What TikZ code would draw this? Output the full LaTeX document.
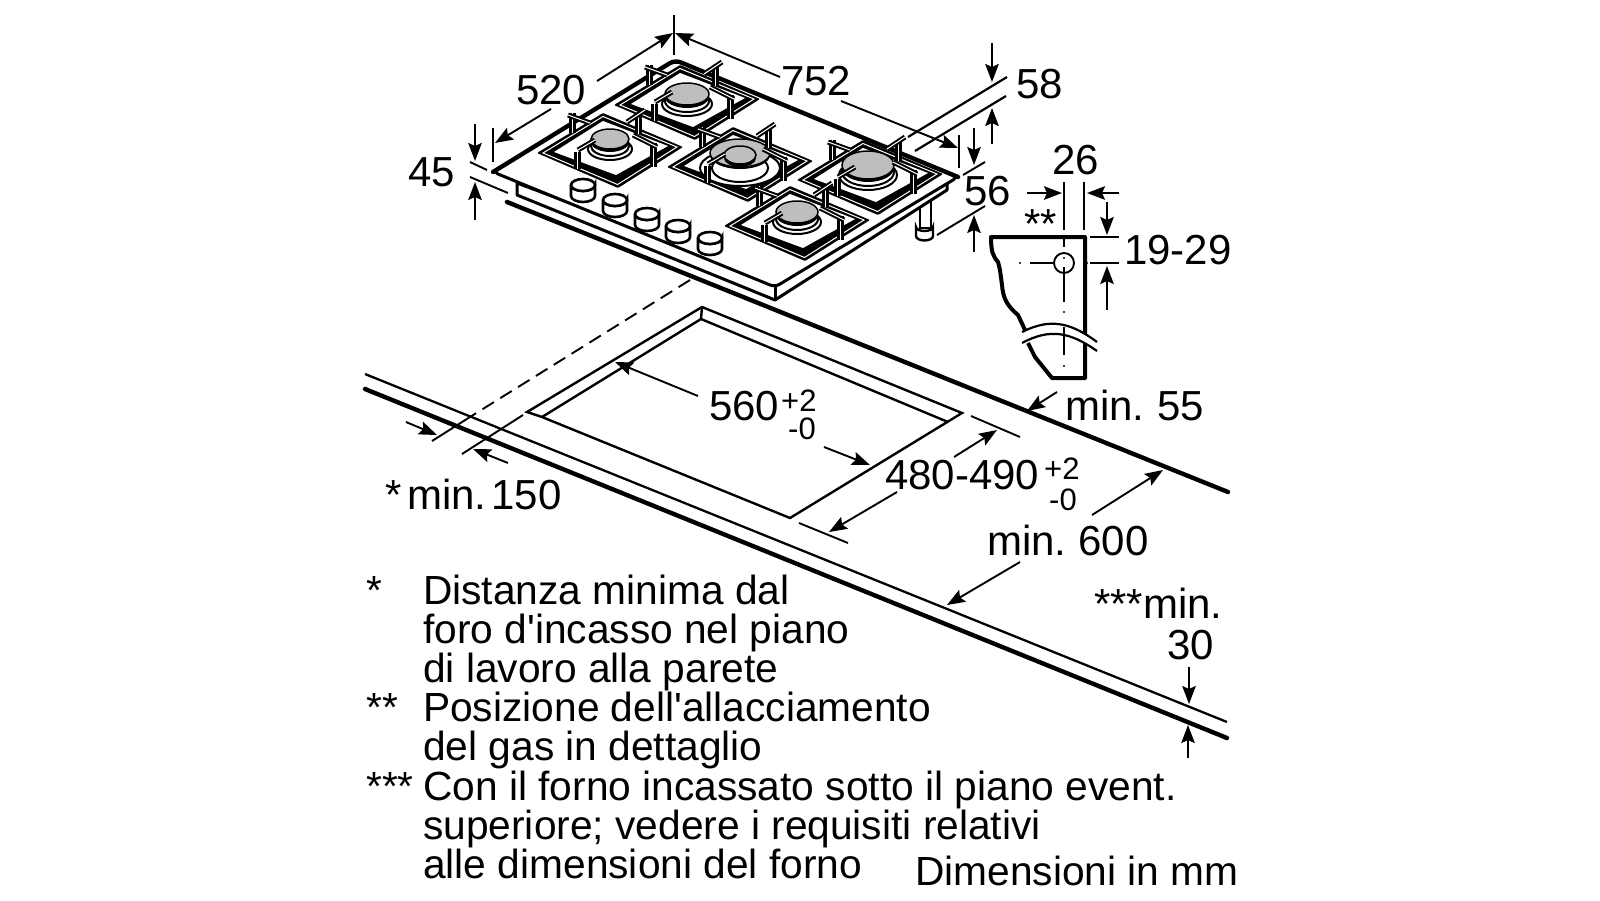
\documentclass[tikz,border=0pt]{standalone}
\usepackage{fontspec}
\newfontfamily\plainf{Liberation Sans}
\usetikzlibrary{arrows.meta}
\definecolor{burnergray}{HTML}{BEBEBE}
\tikzset{
  lab/.style={anchor=base west,inner sep=0pt,font=\plainf\fontsize{42}{42}\selectfont},
  note/.style={anchor=base west,inner sep=0pt,font=\plainf\fontsize{40.7}{41}\selectfont},
  sublab/.style={anchor=base west,inner sep=0pt,font=\plainf\fontsize{31}{31}\selectfont},
  dimarr/.style={-{Stealth[length=18pt,width=13.5pt,inset=3pt]},line width=1.9pt},
  dimline/.style={line width=1.9pt},
  heavy/.style={line width=4.4pt,line cap=round},
  medium/.style={line width=3pt,line join=round},
  bar/.style={double=white,double distance=1pt,line width=2pt},
  post/.style={double=white,double distance=1pt,line width=3pt},
  ring/.style={line width=2pt,fill=white},
  centre/.style={line width=1.9pt}
}
\newcommand{\gratefig}[2]{%
  \begin{scope}[shift={(#1,#2)}]
    \fill[black,rounded corners=1pt] (-73,2)--(-7,-38)--(73,-4)--(8,37)--cycle;
    \draw[white,line width=1pt] (-67,2)--(-7,-34.5)--(67,-4)--(7.5,33.5)--cycle;
    \fill[white] (-56,1)--(-7,-30)--(58,-5)--(6,24)--cycle;
  \end{scope}}
\newcommand{\prongs}[2]{%
  \begin{scope}[shift={(#1,#2)}]
    \draw[post] (-38,-38)--(-38,-18);
    \draw[bar] (-42,-36)--(-20,-28);
    \draw[post] (28,-36)--(28,-17);
    \draw[bar] (17,-29)--(35,-41);
    \draw[post] (-33,18)--(-33,1);
    \draw[bar] (-32,-1)--(-15,-11);
    \draw[post] (43,-8)--(43,16);
    \draw[bar] (23,-16)--(47,-4);
  \end{scope}}
\newcommand{\burnerfig}[4]{%
  \draw[ring] (#1,#2+10) ellipse [x radius=#3+3,y radius=#4+1];
  \draw[ring] (#1,#2+7) ellipse [x radius=#3,y radius=#4];
  \fill[black] (#1,#2+3) ellipse [x radius=#3,y radius=#4];
  \draw[line width=1.5pt,fill=burnergray] (#1,#2) ellipse [x radius=#3,y radius=#4];}
\newcommand{\knob}[2]{%
  \draw[line width=2.6pt,fill=white] (#1-12,#2)--(#1-12,#2+11)
     arc[start angle=180,end angle=0,x radius=12,y radius=6]--(#1+12,#2)
     arc[start angle=0,end angle=180,x radius=12,y radius=6];
  \draw[line width=2.6pt,fill=white] (#1,#2) ellipse [x radius=12,y radius=6];}
\begin{document}
\begin{tikzpicture}[x=1pt,y=-1pt]
\useasboundingbox (0,0) rectangle (1600,900);
\fill[white] (0,0) rectangle (1600,900);

% worktop
\draw[heavy] (507,202)--(1228,492);
\draw[line width=2.3pt] (365,374)--(1227,722);
\draw[heavy] (365,389)--(1227,738);
% cut-out
\draw[line width=2.4pt,line join=miter] (527,412)--(702,307)--(962,413)--(790,518)--(542,417)--cycle;
\draw[line width=2.4pt] (542,417)--(701,319)--(948,422);
\draw[line width=2.4pt] (702,307)--(701,319);
% extension lines
\draw[line width=1.9pt,dash pattern=on 13.5pt off 7.5pt] (690,280)--(470,417);
\draw[dimline] (470,417)--(432,441);
\draw[dimline] (523,415)--(462,454);
\draw[dimline] (971,416)--(1020,437);
\draw[dimline] (799,523)--(848,543);

% gas pipe
\draw[line width=2.2pt,fill=white] (920,200)--(920,228)--(931,228)--(931,200)--cycle;
\draw[line width=2.4pt,fill=white] (916,227)--(916,236) arc[start angle=180,end angle=0,x radius=8.5,y radius=4.5]--(933,227)
   arc[start angle=0,end angle=180,x radius=8.5,y radius=4]--cycle;
% hob body
\draw[medium,fill=white] (517,183)--(517,195)--(775,300)--(947,190)--(947,180)--(775,280)--cycle;
\draw[medium] (775,287)--(775,300);
\fill[white,rounded corners=5pt] (493,172)--(675,60)--(958,177)--(775,287)--cycle;
\draw[medium,rounded corners=5pt] (600,106)--(493,172)--(775,287)--(958,177)--(900,153);
\draw[heavy,rounded corners=6pt] (493,172)--(675,60)--(958,177);

% knobs
\knob{583}{185}\knob{615}{200}\knob{647}{214}\knob{678}{226}\knob{710}{238}

% burners and pan supports
\gratefig{687}{103}
\burnerfig{687}{94}{22}{11}
\prongs{687}{103}
\gratefig{610}{151}
\burnerfig{610}{139}{19}{10}
\prongs{610}{151}
\gratefig{740}{165}
\draw[ring] (740,168) ellipse [x radius=40,y radius=18];
\draw[ring] (740,168) ellipse [x radius=28,y radius=14];
\fill[black] (740,155) ellipse [x radius=30,y radius=14];
\draw[line width=1.5pt,fill=burnergray] (740,153) ellipse [x radius=30,y radius=14];
\fill[black] (740,158) ellipse [x radius=16,y radius=9];
\draw[line width=1.5pt,fill=burnergray] (740,155) ellipse [x radius=16,y radius=9];
\prongs{740}{165}
\gratefig{870}{178}
\burnerfig{868}{165}{26}{14}
\prongs{870}{178}
\gratefig{797}{224}
\burnerfig{797}{212}{21}{11}
\prongs{797}{224}

% dimensions on the hob
\draw[dimline] (674,15)--(674,55);
\draw[dimarr] (597,81)--(673,33);
\draw[dimarr] (551,109)--(495,143);
\draw[dimline] (493,128)--(493,162);
\draw[dimarr] (780,77)--(675,33);
\draw[dimarr] (841,101)--(958,148);
\draw[dimline] (959,135)--(959,168);
\draw[line width=2.2pt] (908,137)--(1007,77);
\draw[line width=2.2pt] (915,151)--(1006,96);
\draw[dimarr] (992,43)--(992,82);
\draw[dimarr] (992,144)--(992,108);
\draw[dimarr] (974,128)--(974,165);
\draw[dimline] (985,162)--(963,175);
\draw[dimline] (985,206)--(937,235);
\draw[dimarr] (974,252)--(974,215);
\draw[dimline] (470,162)--(487,170);
\draw[dimline] (470,177)--(508,193);
\draw[dimarr] (475,124)--(475,161);
\draw[dimarr] (475,220)--(475,182);

% detail of the gas connection
\draw[line width=4pt,line join=round] (1025,330)--(1018,315) .. controls (1006,305) and (1003,297) .. (1002,285)
  --(1000,270)--(998,262) .. controls (993,256) and (991,252) .. (991,237)--(1085,237)--(1085,378)--(1052,378)
  --(1035,357)--(1028,343);
\fill[white] (1022,332) .. controls (1050,318) and (1070,322) .. (1097,342)--(1097,351)
  .. controls (1070,330) and (1050,328) .. (1022,343)--cycle;
\draw[line width=2.2pt] (1022,332) .. controls (1050,318) and (1070,322) .. (1097,342);
\draw[line width=2.2pt] (1022,343) .. controls (1050,328) and (1070,332) .. (1097,351);
\draw[line width=1.9pt] (1064,263) circle [radius=10];
\draw[centre] (1030,263)--(1053,263);
\draw[centre] (1064,235)--(1064,247);
\draw[centre] (1064,267)--(1064,302);
\draw[centre] (1064,327)--(1064,355);
\fill (1020,263) circle [radius=1.2];
\fill (1087,263) circle [radius=1.2];
\fill (1064,258) circle [radius=1.2];
\fill (1064,312) circle [radius=1.2];
\fill (1064,366) circle [radius=1.2];
\draw[dimline] (1064,182)--(1064,230);
\draw[dimline] (1084,182)--(1084,230);
\draw[dimarr] (1027,193)--(1062,193);
\draw[dimarr] (1119,193)--(1087,193);
\draw[dimarr] (1107,202)--(1107,235);
\draw[dimarr] (1107,310)--(1107,266);
\draw[dimline] (1090,237)--(1119,237);
\draw[dimline] (1090,263)--(1119,263);

% dimensions on the worktop
\draw[dimarr] (406,422)--(437,435);
\draw[dimarr] (508,463)--(473,449);
\draw[dimarr] (698,396)--(615,362);
\draw[dimarr] (824,447)--(870,465);
\draw[dimarr] (954,457)--(997,430);
\draw[dimarr] (897,492)--(829,532);
\draw[dimarr] (1057,392)--(1027,411);
\draw[dimarr] (1092,515)--(1163,470);
\draw[dimarr] (1020,562)--(947,605);
\draw[dimarr] (1189,667)--(1189,704);
\draw[dimarr] (1188,758)--(1188,725);

% labels
\node[lab] (t520) at (516,104) {520};
\node[lab] (t752) at (781,95) {752};
\node[lab] (t58) at (1016,98) {58};
\node[lab] (t45) at (408,186) {45};
\node[lab] (t56) at (964,205) {56};
\node[lab] (t26) at (1052,174) {26};
\node[lab] (t1929) at (1124,264) {19-29};
\node[lab] (tss) at (1024,238) {**};
\node[lab] (t560) at (709,420) {560};
\node[sublab] (t560a) at (781,411) {+2};
\node[sublab] (t560b) at (788,439) {-0};
\node[lab] (t480) at (885,489) {480-490};
\node[sublab] (t480a) at (1044,479) {+2};
\node[sublab] (t480b) at (1049,510) {-0};
\node[lab] (tm55) at (1065,420) {min.\kern13pt 55};
\node[lab] (tm600) at (987,555) {min.\kern12pt 600};
\node[lab] (tm150s) at (385,509) {*};
\node[lab] (tm150) at (407,509) {min.\kern5pt 150};
\node[lab] (tm30s) at (1094,618) {***};
\node[lab] (tm30) at (1143,618) {min.};
\node[lab] (t30) at (1167,659) {30};
% notes
\node[note] (s1) at (366,604) {*};
\node[note] (n1) at (423,604) {Distanza minima dal};
\node[note] (n2) at (423,643) {foro d'incasso nel piano};
\node[note] (n3) at (423,682) {di lavoro alla parete};
\node[note] (s2) at (366,721) {**};
\node[note] (n4) at (423,721) {Posizione dell'allacciamento};
\node[note] (n5) at (423,760) {del gas in dettaglio};
\node[note] (s3) at (366,800) {***};
\node[note] (n6) at (423,800) {Con il forno incassato sotto il piano event.};
\node[note] (n7) at (423,839) {superiore; vedere i requisiti relativi};
\node[note] (n8) at (423,878) {alle dimensioni del forno};
\node[note] (n9) at (915,885) {Dimensioni in mm};
\end{tikzpicture}
\end{document}
